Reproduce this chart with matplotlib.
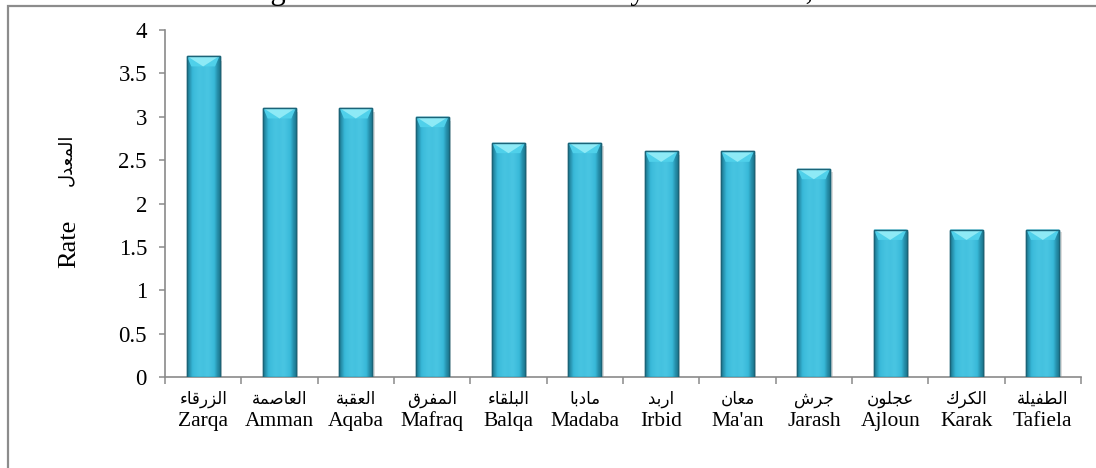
import matplotlib
matplotlib.use("Agg")
import matplotlib.pyplot as plt
import numpy as np
from matplotlib.patches import Rectangle, Polygon
from matplotlib.colors import LinearSegmentedColormap
import matplotlib.transforms as mtransforms

# ---------------- data ----------------
names_en = ["Zarqa", "Amman", "Aqaba", "Mafraq", "Balqa", "Madaba",
            "Irbid", "Ma'an", "Jarash", "Ajloun", "Karak", "Tafiela"]
names_ar = ["الزرقاء", "العاصمة", "العقبة", "المفرق", "البلقاء", "مادبا",
            "اربد", "معان", "جرش", "عجلون", "الكرك", "الطفيلة"]
rates = [3.7, 3.1, 3.1, 3.0, 2.7, 2.7, 2.6, 2.6, 2.4, 1.7, 1.7, 1.7]
yticks = [0, 0.5, 1, 1.5, 2, 2.5, 3, 3.5, 4]
ytick_labels = ["0", "0.5", "1", "1.5", "2", "2.5", "3", "3.5", "4"]
ylabel_en = "Rate"
ylabel_ar = "المعدل"
title = "Figure 3: Crude Divorce Rate by Governorate, 2015"

# ------------- minimal Arabic shaping (presentation forms) -------------
FORMS = {  # isolated, final, initial, medial
    'ا': (0xFE8D, 0xFE8E, None, None),
    'ب': (0xFE8F, 0xFE90, 0xFE91, 0xFE92),
    'ة': (0xFE93, 0xFE94, None, None),
    'ت': (0xFE95, 0xFE96, 0xFE97, 0xFE98),
    'ج': (0xFE9D, 0xFE9E, 0xFE9F, 0xFEA0),
    'د': (0xFEA9, 0xFEAA, None, None),
    'ر': (0xFEAD, 0xFEAE, None, None),
    'ز': (0xFEAF, 0xFEB0, None, None),
    'ش': (0xFEB5, 0xFEB6, 0xFEB7, 0xFEB8),
    'ص': (0xFEB9, 0xFEBA, 0xFEBB, 0xFEBC),
    'ط': (0xFEC1, 0xFEC2, 0xFEC3, 0xFEC4),
    'ع': (0xFEC9, 0xFECA, 0xFECB, 0xFECC),
    'ف': (0xFED1, 0xFED2, 0xFED3, 0xFED4),
    'ق': (0xFED5, 0xFED6, 0xFED7, 0xFED8),
    'ك': (0xFED9, 0xFEDA, 0xFEDB, 0xFEDC),
    'ل': (0xFEDD, 0xFEDE, 0xFEDF, 0xFEE0),
    'م': (0xFEE1, 0xFEE2, 0xFEE3, 0xFEE4),
    'ن': (0xFEE5, 0xFEE6, 0xFEE7, 0xFEE8),
    'و': (0xFEED, 0xFEEE, None, None),
    'ي': (0xFEF1, 0xFEF2, 0xFEF3, 0xFEF4),
    'ء': (0xFE80, None, None, None),
}


def shape_ar(word):
    out = []
    n = len(word)
    for i, ch in enumerate(word):
        f = FORMS.get(ch)
        if f is None:
            out.append(ch)
            continue
        prev = word[i - 1] if i > 0 else None
        nxt = word[i + 1] if i < n - 1 else None
        jp = (prev is not None and prev in FORMS and FORMS[prev][2] is not None
              and f[1] is not None)
        jn = (nxt is not None and nxt in FORMS and FORMS[nxt][1] is not None
              and f[2] is not None)
        if jp and jn:
            cp = f[3]
        elif jp:
            cp = f[1]
        elif jn:
            cp = f[2]
        else:
            cp = f[0]
        out.append(chr(cp))
    return "".join(out)[::-1]


# ---------------- figure ----------------
W, H = 1096, 468
fig = plt.figure(figsize=(W / 100, H / 100), dpi=100)
fig.patch.set_facecolor("white")

# outer chart-area border (cropped)
fig.patches.append(Rectangle((8 / W, -0.2), 1.2, 1.2 - 6 / H,
                             transform=fig.transFigure, fill=False,
                             edgecolor="#8c8c8c", linewidth=1.6, zorder=0))
fig.text(563 / W, 1 + 1.0 / H, title, ha="center", va="baseline",
         fontsize=22, family="Liberation Serif", color="black")

ax = fig.add_axes([165 / W, 1 - 377 / H, (1081 - 165) / W, (377 - 30) / H])
ax.set_xlim(-0.5, len(rates) - 0.5)
ax.set_ylim(0, 4)
for s in ["top", "right"]:
    ax.spines[s].set_visible(False)
for s in ["left", "bottom"]:
    ax.spines[s].set_color("#8a8a8a")
    ax.spines[s].set_linewidth(1.2)

ax.set_yticks(yticks)
ax.set_yticklabels(ytick_labels, family="Liberation Serif", fontsize=16.5)
ax.tick_params(axis="y", direction="out", length=4, width=1.1,
               color="#8a8a8a", pad=9)
x = np.arange(len(rates))
ax.set_xticks(x)
ax.set_xticklabels([])
ax.tick_params(axis="x", which="major", length=0)
ax.set_xticks(np.arange(len(rates) + 1) - 0.5, minor=True)
ax.tick_params(axis="x", which="minor", direction="out", length=5,
               width=1.1, color="#8a8a8a")

# bars
bw = 0.43
bars = ax.bar(x, rates, width=bw, color="#31b0d0", edgecolor="#1b6478",
              linewidth=1.0, zorder=3)
grad = np.array([0.0, 0.4, 0.65, 0.8, 0.9, 0.75, 0.95, 0.85, 0.65, 0.4, 0.0])
cmap = LinearSegmentedColormap.from_list(
    "bar", ["#1f7f98", "#38b8d8", "#4cc8e4"])
bevel_h = 0.12
for xi, h, b in zip(x, rates, bars):
    im = ax.imshow(grad[None, :], extent=(xi - bw / 2, xi + bw / 2, 0, h),
                   aspect="auto", cmap=cmap, vmin=0, vmax=1, zorder=3.1,
                   interpolation="bicubic")
    im.set_clip_path(b)
    # soft shadow
    ax.add_patch(Rectangle((xi + bw / 2, 0), 0.03, h * 0.985,
                           facecolor="#dcdcdc", edgecolor="none", zorder=2))
    # top bevel
    ax.add_patch(Polygon([(xi - bw / 2, h), (xi + bw / 2, h),
                          (xi + bw / 2 - 0.06, h - bevel_h),
                          (xi - bw / 2 + 0.06, h - bevel_h)],
                         closed=True, facecolor="#4fd0ea", edgecolor="none",
                         zorder=3.2))
    ax.add_patch(Polygon([(xi - bw / 2 + 0.02, h - 0.01),
                          (xi + bw / 2 - 0.02, h - 0.01),
                          (xi, h - bevel_h)],
                         closed=True, facecolor="#8eeaf6", edgecolor="none",
                         zorder=3.3))
    ax.add_patch(Rectangle((xi - bw / 2, 0), bw, h, fill=False,
                           edgecolor="#1b6478", linewidth=1.0, zorder=3.4))

# category labels (two lines)
trans = mtransforms.blended_transform_factory(ax.transData, fig.transFigure)
for xi, en, ar in zip(x, names_en, names_ar):
    ax.text(xi, 1 - 404 / H, shape_ar(ar), transform=trans, ha="center",
            va="baseline", fontsize=12, family=["DejaVu Sans"],
            clip_on=False)
    ax.text(xi, 1 - 426 / H, en, transform=trans, ha="center",
            va="baseline", fontsize=15.5, family="Liberation Serif",
            clip_on=False)

# y labels
fig.text(69 / W, 1 - 244 / H, ylabel_en, rotation=90, ha="center",
         va="center", fontsize=19, family="Liberation Serif")
fig.text(66 / W, 1 - 160 / H, shape_ar(ylabel_ar), rotation=90,
         ha="center", va="center", fontsize=13, family=["DejaVu Sans"])

fig.savefig("out.png", dpi=100, facecolor="white")
